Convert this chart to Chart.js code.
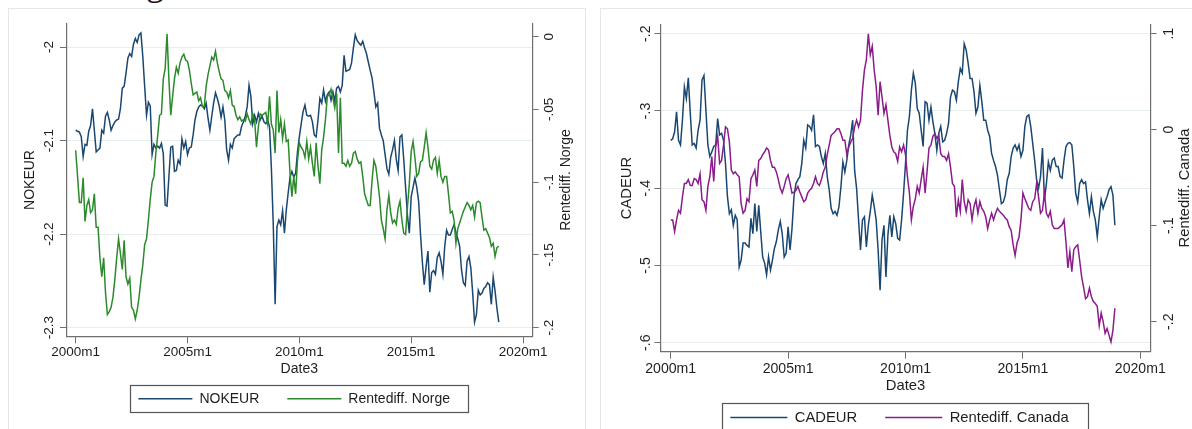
<!DOCTYPE html>
<html>
<head>
<meta charset="utf-8">
<script src="https://cdn.jsdelivr.net/npm/chart.js@4/dist/chart.umd.min.js"></script>
<style>
  body { margin: 0; width: 1192px; height: 429px; overflow: hidden; background: #fff; position: relative; }
  .frame { position: absolute; border: 1px solid #e3e8eb; box-sizing: border-box; }
  canvas { position: absolute; top: 0; }
  #cut { position: absolute; left: 146px; top: -35px; font: 36px/36px "Liberation Serif", serif; color: #111; }
</style>
</head>
<body>
<div class="frame" style="left:8px;top:8px;width:578px;height:440px"></div>
<div class="frame" style="left:600px;top:8px;width:600px;height:440px"></div>
<div id="cut">g</div>
<canvas id="nok-chart" width="596" height="450" style="left:0"></canvas>
<canvas id="cad-chart" width="596" height="450" style="left:596px"></canvas>
<script>
// State (monthly, month 0 = 2000m1, one row per year)
var xTickMonths = [0, 60, 120, 180, 240];
var xTickLabels = ["2000m1", "2005m1", "2010m1", "2015m1", "2020m1"];

var nokTicks = [-2, -2.1, -2.2, -2.3];
var norgeTicks = [0, -0.05, -0.1, -0.15, -0.2];
var cadTicks = [-0.2, -0.3, -0.4, -0.5, -0.6];
var canadaTicks = [0.1, 0, -0.1, -0.2];

var nokeur = [
  -2.089, -2.090, -2.091, -2.096, -2.117, -2.104, -2.105, -2.090, -2.084, -2.066, -2.089, -2.112,
  -2.110, -2.108, -2.089, -2.092, -2.074, -2.070, -2.078, -2.089, -2.084, -2.080, -2.078, -2.077,
  -2.066, -2.044, -2.042, -2.028, -2.012, -2.007, -2.010, -1.997, -1.991, -1.995, -1.987, -1.985,
  -2.010, -2.042, -2.073, -2.059, -2.063, -2.115, -2.104, -2.108, -2.106, -2.108, -2.103, -2.114,
  -2.169, -2.170, -2.139, -2.107, -2.106, -2.133, -2.132, -2.121, -2.125, -2.098, -2.108, -2.101,
  -2.115, -2.108, -2.107, -2.094, -2.078, -2.069, -2.064, -2.062, -2.063, -2.066, -2.060, -2.076,
  -2.089, -2.074, -2.060, -2.049, -2.055, -2.063, -2.075, -2.064, -2.078, -2.110, -2.121, -2.104,
  -2.108, -2.098, -2.096, -2.094, -2.094, -2.085, -2.080, -2.074, -2.064, -2.041, -2.053, -2.082,
  -2.073, -2.080, -2.071, -2.078, -2.074, -2.080, -2.082, -2.078, -2.085, -2.130, -2.190, -2.275,
  -2.192, -2.185, -2.190, -2.175, -2.199, -2.174, -2.156, -2.139, -2.133, -2.139, -2.135, -2.112,
  -2.096, -2.082, -2.069, -2.062, -2.073, -2.074, -2.073, -2.080, -2.094, -2.096, -2.078, -2.055,
  -2.060, -2.046, -2.058, -2.051, -2.048, -2.057, -2.048, -2.058, -2.044, -2.042, -2.048, -2.041,
  -2.009, -2.026, -2.025, -2.024, -2.017, -2.001, -1.987, -1.993, -1.996, -1.998, -1.994, -2.001,
  -2.007, -2.016, -2.025, -2.033, -2.048, -2.064, -2.060, -2.087, -2.094, -2.100, -2.115, -2.130,
  -2.136, -2.118, -2.110, -2.100, -2.120, -2.132, -2.096, -2.094, -2.120, -2.150, -2.180, -2.199,
  -2.160, -2.150, -2.140, -2.150, -2.165, -2.200, -2.230, -2.254, -2.235, -2.218, -2.262, -2.241,
  -2.239, -2.243, -2.225, -2.220, -2.229, -2.243, -2.213, -2.196, -2.201, -2.201, -2.195, -2.190,
  -2.198, -2.205, -2.213, -2.238, -2.252, -2.255, -2.229, -2.224, -2.236, -2.263, -2.294, -2.286,
  -2.260, -2.265, -2.263, -2.258, -2.256, -2.252, -2.254, -2.275, -2.246, -2.261, -2.279, -2.294,
];

var rentediffNorge = [
  -0.078, -0.096, -0.114, -0.114, -0.097, -0.127, -0.116, -0.112, -0.121, -0.119, -0.108, -0.131,
  -0.131, -0.152, -0.165, -0.152, -0.176, -0.191, -0.189, -0.186, -0.179, -0.167, -0.152, -0.139,
  -0.149, -0.160, -0.140, -0.165, -0.170, -0.166, -0.186, -0.188, -0.194, -0.188, -0.179, -0.167,
  -0.157, -0.143, -0.139, -0.126, -0.112, -0.100, -0.096, -0.080, -0.068, -0.054, -0.053, -0.029,
  -0.022, 0.002, -0.029, -0.054, -0.041, -0.029, -0.021, -0.025, -0.018, -0.014, -0.012, -0.016,
  -0.017, -0.023, -0.032, -0.040, -0.039, -0.038, -0.044, -0.042, -0.048, -0.048, -0.034, -0.026,
  -0.020, -0.014, -0.016, -0.010, -0.018, -0.024, -0.029, -0.030, -0.037, -0.038, -0.042, -0.037,
  -0.047, -0.048, -0.054, -0.057, -0.055, -0.058, -0.057, -0.058, -0.053, -0.057, -0.060, -0.053,
  -0.057, -0.076, -0.062, -0.053, -0.054, -0.053, -0.052, -0.060, -0.041, -0.060, -0.064, -0.080,
  -0.037, -0.066, -0.057, -0.070, -0.060, -0.072, -0.071, -0.094, -0.110, -0.096, -0.108, -0.085,
  -0.073, -0.076, -0.078, -0.083, -0.072, -0.084, -0.076, -0.087, -0.096, -0.073, -0.089, -0.101,
  -0.078, -0.069, -0.057, -0.041, -0.040, -0.036, -0.042, -0.049, -0.039, -0.080, -0.042, -0.087,
  -0.087, -0.089, -0.085, -0.089, -0.087, -0.080, -0.079, -0.084, -0.087, -0.086, -0.096, -0.108,
  -0.112, -0.116, -0.116, -0.099, -0.085, -0.089, -0.099, -0.110, -0.126, -0.132, -0.139, -0.119,
  -0.109, -0.121, -0.128, -0.126, -0.129, -0.118, -0.113, -0.126, -0.135, -0.136, -0.117, -0.101,
  -0.079, -0.072, -0.083, -0.096, -0.094, -0.086, -0.085, -0.076, -0.066, -0.076, -0.089, -0.091,
  -0.085, -0.083, -0.094, -0.085, -0.096, -0.100, -0.096, -0.096, -0.108, -0.121, -0.120, -0.126,
  -0.142, -0.132, -0.128, -0.124, -0.120, -0.117, -0.114, -0.116, -0.119, -0.116, -0.124, -0.114,
  -0.113, -0.114, -0.124, -0.133, -0.132, -0.135, -0.138, -0.144, -0.142, -0.151, -0.145, -0.144,
];

var cadeur = [
  -0.338, -0.336, -0.327, -0.301, -0.338, -0.344, -0.312, -0.269, -0.284, -0.257, -0.303, -0.344,
  -0.342, -0.348, -0.325, -0.312, -0.260, -0.254, -0.299, -0.344, -0.359, -0.353, -0.346, -0.344,
  -0.310, -0.331, -0.329, -0.338, -0.368, -0.411, -0.433, -0.428, -0.448, -0.435, -0.441, -0.502,
  -0.493, -0.471, -0.471, -0.474, -0.476, -0.439, -0.459, -0.420, -0.456, -0.422, -0.456, -0.489,
  -0.497, -0.512, -0.489, -0.506, -0.493, -0.478, -0.469, -0.454, -0.443, -0.459, -0.489, -0.484,
  -0.450, -0.480, -0.452, -0.411, -0.394, -0.389, -0.385, -0.368, -0.338, -0.348, -0.318, -0.320,
  -0.325, -0.305, -0.346, -0.344, -0.346, -0.359, -0.368, -0.355, -0.385, -0.402, -0.426, -0.433,
  -0.430, -0.435, -0.424, -0.398, -0.366, -0.379, -0.364, -0.344, -0.331, -0.312, -0.377, -0.400,
  -0.441, -0.480, -0.441, -0.437, -0.476, -0.448, -0.430, -0.409, -0.424, -0.441, -0.480, -0.532,
  -0.467, -0.448, -0.515, -0.461, -0.435, -0.463, -0.437, -0.446, -0.465, -0.467, -0.441, -0.407,
  -0.368, -0.325, -0.307, -0.273, -0.251, -0.264, -0.297, -0.303, -0.325, -0.346, -0.288, -0.290,
  -0.312, -0.295, -0.314, -0.329, -0.351, -0.329, -0.320, -0.340, -0.338, -0.329, -0.316, -0.282,
  -0.273, -0.275, -0.286, -0.262, -0.245, -0.251, -0.213, -0.221, -0.238, -0.258, -0.258, -0.275,
  -0.303, -0.295, -0.267, -0.288, -0.312, -0.312, -0.325, -0.333, -0.355, -0.364, -0.372, -0.383,
  -0.402, -0.420, -0.418, -0.409, -0.389, -0.381, -0.359, -0.348, -0.344, -0.351, -0.344, -0.359,
  -0.351, -0.320, -0.307, -0.305, -0.320, -0.342, -0.364, -0.389, -0.400, -0.385, -0.348, -0.415,
  -0.394, -0.366, -0.377, -0.364, -0.361, -0.372, -0.372, -0.385, -0.387, -0.364, -0.346, -0.342,
  -0.341, -0.344, -0.372, -0.407, -0.418, -0.394, -0.389, -0.394, -0.392, -0.415, -0.433, -0.411,
  -0.430, -0.441, -0.463, -0.437, -0.415, -0.426, -0.418, -0.411, -0.402, -0.398, -0.409, -0.448,
];

var rentediffCanada = [
  -0.094, -0.094, -0.106, -0.094, -0.084, -0.087, -0.070, -0.056, -0.056, -0.052, -0.058, -0.058,
  -0.051, -0.052, -0.056, -0.046, -0.073, -0.075, -0.084, -0.059, -0.049, -0.028, -0.054, -0.018,
  -0.007, -0.035, -0.032, -0.016, 0.003, 0.001, -0.013, -0.042, -0.046, -0.044, -0.047, -0.049,
  -0.077, -0.087, -0.084, -0.072, -0.075, -0.051, -0.047, -0.042, -0.059, -0.032, -0.030, -0.026,
  -0.023, -0.019, -0.021, -0.032, -0.039, -0.039, -0.044, -0.052, -0.061, -0.066, -0.059, -0.051,
  -0.047, -0.056, -0.066, -0.065, -0.063, -0.059, -0.065, -0.070, -0.075, -0.073, -0.066, -0.063,
  -0.061, -0.056, -0.049, -0.056, -0.058, -0.052, -0.044, -0.039, -0.026, -0.016, -0.006, -0.004,
  -0.002, 0.001, 0.001, -0.004, -0.011, -0.011, -0.026, -0.018, -0.013, -0.009, 0.003, 0.010,
  0.003, 0.010, 0.041, 0.062, 0.073, 0.100, 0.078, 0.087, 0.062, 0.045, 0.015, 0.050,
  0.034, 0.017, 0.026, 0.010, -0.006, -0.018, -0.023, -0.025, -0.033, -0.018, -0.023, -0.016,
  -0.026, -0.049, -0.066, -0.094, -0.080, -0.072, -0.059, -0.066, -0.052, -0.039, -0.066, -0.044,
  -0.019, -0.016, -0.007, -0.004, -0.009, -0.006, -0.025, -0.028, -0.028, -0.032, -0.025, -0.039,
  -0.056, -0.059, -0.091, -0.073, -0.085, -0.052, -0.075, -0.085, -0.073, -0.077, -0.094, -0.080,
  -0.073, -0.087, -0.075, -0.082, -0.085, -0.091, -0.103, -0.094, -0.087, -0.094, -0.087, -0.082,
  -0.085, -0.087, -0.089, -0.092, -0.094, -0.101, -0.105, -0.120, -0.131, -0.118, -0.112, -0.094,
  -0.066, -0.072, -0.077, -0.082, -0.084, -0.075, -0.072, -0.056, -0.070, -0.087, -0.084, -0.066,
  -0.087, -0.091, -0.085, -0.099, -0.103, -0.103, -0.103, -0.101, -0.099, -0.094, -0.117, -0.144,
  -0.127, -0.148, -0.125, -0.122, -0.120, -0.136, -0.153, -0.164, -0.176, -0.174, -0.165, -0.174,
  -0.179, -0.181, -0.184, -0.204, -0.191, -0.200, -0.212, -0.207, -0.214, -0.221, -0.209, -0.186,
];

// Look
var fontFamily = '"Liberation Sans", Arial, Helvetica, sans-serif';
var textColor = "#1e1e1e";
var axisColor = "#6f6f6f";
var gridColor = "#e6eef1";
Chart.defaults.font.family = fontFamily;
Chart.defaults.color = textColor;

function toPoints(values) {
  return values.map(function (v, i) {
    return { x: i, y: v };
  });
}

function stataLabel(v) {
  // Stata drops the leading zero: -.05, .1
  var s = String(Math.round(v * 1000) / 1000);
  return s.replace(/^(-?)0\./, "$1.");
}

function fixedTicks(values) {
  return function (scale) {
    scale.ticks = values.map(function (v) {
      return { value: v };
    });
  };
}

function keyLabels(chart) {
  // one line sample per series, in dataset order, coloured like the series
  return chart.data.datasets.map(function (ds, i) {
    return {
      text: ds.label,
      strokeStyle: ds.borderColor,
      fillStyle: ds.borderColor,
      fontColor: textColor,
      lineWidth: 1.5,
      pointStyle: "line",
      hidden: false,
      datasetIndex: i,
    };
  });
}

// Right axis title (reads bottom to top) and the frame round the key
var stataExtras = {
  id: "stataExtras",
  afterDraw: function (chart, args, opts) {
    var ctx = chart.ctx;
    var area = chart.chartArea;
    ctx.save();
    ctx.font = opts.titleSize + "px " + fontFamily;
    ctx.fillStyle = textColor;
    ctx.textAlign = "center";
    ctx.textBaseline = "middle";
    ctx.translate(opts.titleX, (area.top + area.bottom) / 2);
    ctx.rotate(-Math.PI / 2);
    ctx.fillText(opts.rightTitle, 0, 0);
    ctx.restore();

    var boxes = chart.legend.legendHitBoxes;
    var first = boxes[0];
    var last = boxes[boxes.length - 1];
    var m = opts.keyMargin;
    var x0 = Math.round(first.left - m[0]);
    var y0 = Math.round(first.top - m[1]);
    var x1 = Math.round(last.left + last.width + m[2]);
    var y1 = Math.round(first.top + m[3]);
    ctx.save();
    ctx.strokeStyle = "#555";
    ctx.lineWidth = 1.2;
    ctx.strokeRect(x0 + 0.5, y0 + 0.5, x1 - x0, y1 - y0);
    ctx.restore();
  },
};

function buildChart(id, s) {
  var ctx = document.getElementById(id).getContext("2d");
  return new Chart(ctx, {
    type: "line",
    data: {
      datasets: [
        { label: s.leftLabel, data: toPoints(s.leftValues), borderColor: s.leftColor, yAxisID: "y", order: 1 },
        { label: s.rightLabel, data: toPoints(s.rightValues), borderColor: s.rightColor, yAxisID: "y2", order: 0 },
      ],
    },
    plugins: [stataExtras],
    options: {
      responsive: false,
      animation: false,
      layout: { padding: s.padding },
      elements: {
        point: { radius: 0 },
        line: { borderWidth: 1.5, tension: 0 },
      },
      scales: {
        x: {
          type: "linear",
          min: s.xMin,
          max: s.xMax,
          afterBuildTicks: fixedTicks(xTickMonths),
          afterFit: function (scale) { scale.height = s.xHeight; },
          ticks: {
            autoSkip: false,
            maxRotation: 0,
            padding: s.xTickPad,
            font: { size: s.tickSize },
            color: textColor,
            callback: function (v) { return xTickLabels[xTickMonths.indexOf(v)]; },
          },
          grid: { drawOnChartArea: false, tickLength: s.xTickLen, tickColor: axisColor },
          border: { color: axisColor, width: 1.2 },
          title: { display: true, text: "Date3", color: textColor, font: { size: s.titleSize }, padding: { top: 0, bottom: s.xTitlePad } },
        },
        y: {
          position: "left",
          min: s.yMin,
          max: s.yMax,
          afterBuildTicks: fixedTicks(s.leftTicks),
          afterFit: function (scale) { scale.width = s.yWidth; },
          ticks: {
            minRotation: 90,
            maxRotation: 90,
            crossAlign: "center",
            padding: s.yTickPad,
            font: { size: s.tickSize },
            color: textColor,
            callback: stataLabel,
          },
          grid: { color: gridColor, tickLength: 6.3, tickColor: axisColor },
          border: { color: axisColor, width: 1.2 },
          title: { display: true, text: s.leftLabel, color: textColor, font: { size: s.titleSize }, padding: { top: s.yTitlePad, bottom: 0 } },
        },
        y2: {
          position: "right",
          min: s.y2Min,
          max: s.y2Max,
          afterBuildTicks: fixedTicks(s.rightTicks),
          afterFit: function (scale) { scale.width = s.y2Width; },
          ticks: {
            minRotation: 90,
            maxRotation: 90,
            crossAlign: "center",
            padding: s.y2TickPad,
            font: { size: s.tickSize },
            color: textColor,
            callback: stataLabel,
          },
          grid: { drawOnChartArea: false, tickLength: 6.3, tickColor: axisColor },
          border: { color: axisColor, width: 1.2 },
        },
      },
      plugins: {
        tooltip: { enabled: false },
        legend: {
          position: "bottom",
          labels: {
            usePointStyle: true,
            pointStyle: "line",
            pointStyleWidth: s.keyLine,
            padding: 28,
            color: textColor,
            font: { size: s.keySize },
            generateLabels: keyLabels,
          },
        },
        stataExtras: {
          rightTitle: s.rightLabel,
          titleX: s.rightTitleX,
          titleSize: s.titleSize,
          keyMargin: s.keyMargin,
        },
      },
    },
  });
}

// Chart
var nokChart = buildChart("nok-chart", {
  leftLabel: "NOKEUR", leftValues: nokeur, leftColor: "#1a476f", leftTicks: nokTicks,
  rightLabel: "Rentediff. Norge", rightValues: rentediffNorge, rightColor: "#2b8a2b", rightTicks: norgeTicks,
  padding: { left: 8, right: 15.6, top: 23.3, bottom: 34.2 },
  xMin: -5.04, xMax: 244.98, xHeight: 27.1, xTickLen: 6.7, xTickPad: 0.6, xTitlePad: -13.4,
  yMin: -2.30962, yMax: -1.97467, yWidth: 58.3, yTickPad: -0.8, yTitlePad: 14.1,
  y2Min: -0.20619, y2Max: 0.00921, y2Width: 48.1, y2TickPad: -1.2,
  tickSize: 13.5, titleSize: 14, keySize: 14, keyLine: 54,
  rightTitleX: 566, keyMargin: [8, 6.8, 18, 19.9],
});

var cadChart = buildChart("cad-chart", {
  leftLabel: "CADEUR", leftValues: cadeur, leftColor: "#1a476f", leftTicks: cadTicks,
  rightLabel: "Rentediff. Canada", rightValues: rentediffCanada, rightColor: "#8b1c8b", rightTicks: canadaTicks,
  padding: { left: 14, right: 3, top: 24.3, bottom: 15.1 },
  xMin: -5.11, xMax: 245.1, xHeight: 30.4, xTickLen: 7, xTickPad: 2, xTitlePad: -12.6,
  yMin: -0.61165, yMax: -0.18783, yWidth: 50.7, yTickPad: 0.5, yTitlePad: 7.9,
  y2Min: -0.23125, y2Max: 0.10979, y2Width: 38.7, y2TickPad: 3.8,
  tickSize: 14.1, titleSize: 14.8, keySize: 14.8, keyLine: 57,
  rightTitleX: 588.5, keyMargin: [8, 6.8, 19.7, 21],
});
</script>
</body>
</html>
